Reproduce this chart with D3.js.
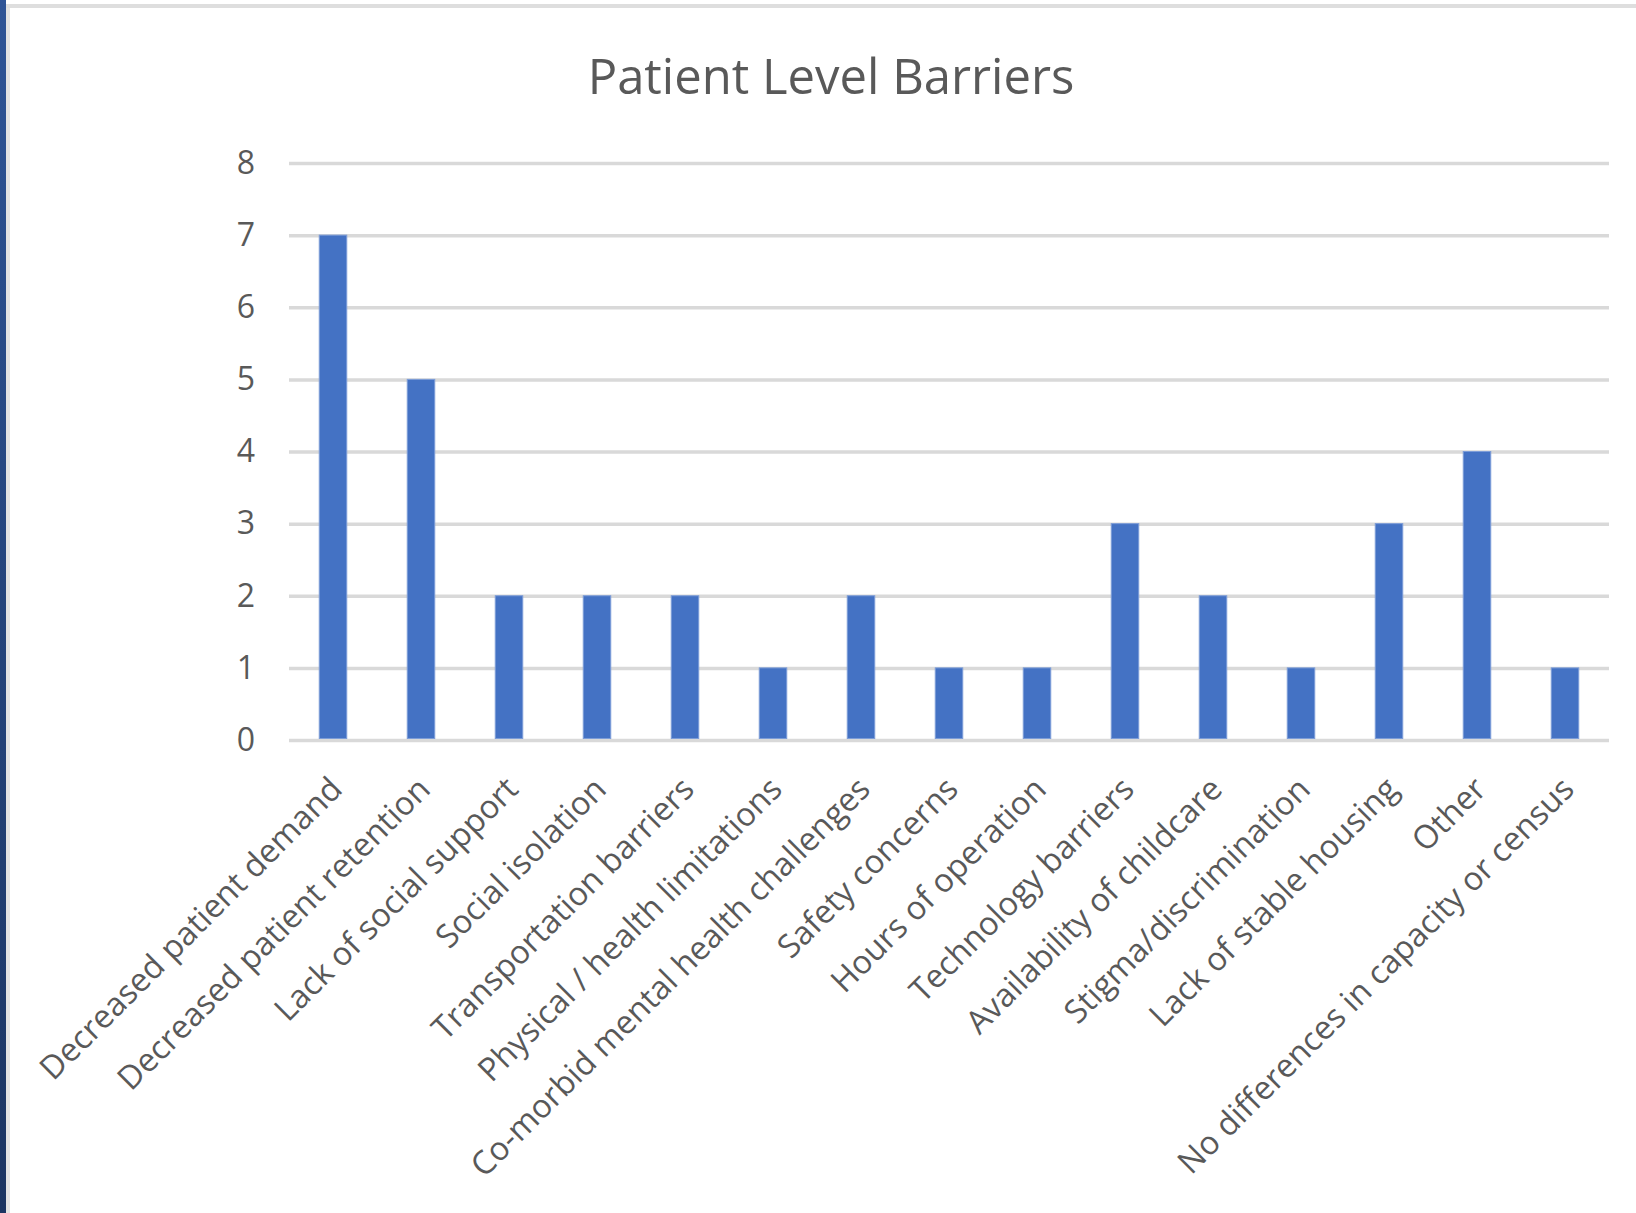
<!DOCTYPE html>
<html>
<head>
<meta charset="utf-8">
<script src="https://cdn.jsdelivr.net/npm/d3@7"></script>
<style>
    html, body { margin: 0; padding: 0; background: #ffffff; }
    svg { display: block; }
</style>
</head>
<body>
<svg id="mainFrame"></svg>
<script>
/**
 * Data of the chart.
 */
const categories = [
    'Decreased patient demand',
    'Decreased patient retention',
    'Lack of social support',
    'Social isolation',
    'Transportation barriers',
    'Physical / health limitations',
    'Co-morbid mental health challenges',
    'Safety concerns',
    'Hours of operation',
    'Technology barriers',
    'Availability of childcare',
    'Stigma/discrimination',
    'Lack of stable housing',
    'Other',
    'No differences in capacity or census'
];
const counts = [7, 5, 2, 2, 2, 1, 2, 1, 1, 3, 2, 1, 3, 4, 1];
const yTicks = [0, 1, 2, 3, 4, 5, 6, 7, 8];
const chartTitle = 'Patient Level Barriers';

const width = 1636;
const height = 1213;

// reference to the svg container
const svg = d3.select('#mainFrame')
    .attr('width', width)
    .attr('height', height);

// plot area of the chart
const plot = {
    left: 289,
    right: 1609,
    top: 163,
    bottom: 740
};

const textColor = '#595959';
const gridColor = '#d9d9d9';
const font = '"Open Sans", "Noto Sans", sans-serif';

/**
 * Frame around the chart (window edge on the left, border on top).
 */
const defs = svg.append('defs');
const grad = defs.append('linearGradient')
    .attr('id', 'edgeGrad')
    .attr('x1', 0).attr('y1', 0).attr('x2', 0).attr('y2', 1);
grad.append('stop').attr('offset', '0%').attr('stop-color', '#2e5496');
grad.append('stop').attr('offset', '100%').attr('stop-color', '#1c3562');

svg.append('rect')
    .attr('x', 0).attr('y', 0)
    .attr('width', 6).attr('height', height)
    .attr('fill', 'url(#edgeGrad)');
svg.append('rect')
    .attr('x', 6).attr('y', 4)
    .attr('width', 4).attr('height', height - 4)
    .attr('fill', '#e3e3e3');
svg.append('rect')
    .attr('x', 6).attr('y', 4)
    .attr('width', width - 6).attr('height', 4)
    .attr('fill', '#dedede');

/**
 * Scales
 */
const x = d3.scaleBand()
    .domain(categories)
    .range([plot.left, plot.right])
    .paddingInner(0.6875)
    .paddingOuter(0.34375);

const y = d3.scaleLinear()
    .domain([0, 8])
    .range([plot.bottom, plot.top]);

/**
 * Title
 */
svg.append('text')
    .attr('x', 831)
    .attr('y', 94)
    .attr('text-anchor', 'middle')
    .attr('fill', textColor)
    .style('font-family', font)
    .style('font-size', '49px')
    .text(chartTitle);

/**
 * Gridlines and y axis labels
 */
const yAxis = svg.append('g')
    .attr('transform', `translate(${plot.left},0)`)
    .call(d3.axisLeft(y)
        .tickValues(yTicks)
        .tickSize(-(plot.right - plot.left))
        .tickPadding(34)
        .tickFormat(d3.format('d')));

yAxis.select('.domain').remove();
yAxis.selectAll('.tick line')
    .attr('stroke', gridColor)
    .attr('stroke-width', 3.5);
yAxis.selectAll('.tick text')
    .attr('fill', textColor)
    .style('font-family', font)
    .style('font-size', '32px');

/**
 * Bars
 */
svg.append('g')
    .selectAll('rect')
    .data(counts)
    .join('rect')
    .attr('x', (d, i) => x(categories[i]))
    .attr('y', d => y(d))
    .attr('width', x.bandwidth())
    .attr('height', d => y(0) - y(d) - 1.5)
    .attr('fill', '#4472c4')
    .attr('stroke', '#7d9dd8')
    .attr('stroke-width', 1);

/**
 * Rotated category labels
 */
svg.append('g')
    .selectAll('text')
    .data(categories)
    .join('text')
    .attr('transform', d => {
        const cx = x(d) + x.bandwidth() / 2;
        return `translate(${cx + 3},${plot.bottom + 43}) rotate(-45)`;
    })
    .attr('text-anchor', 'end')
    .attr('dy', '0.35em')
    .attr('fill', textColor)
    .style('font-family', font)
    .style('font-size', '32.5px')
    .text(d => d);
</script>
</body>
</html>
